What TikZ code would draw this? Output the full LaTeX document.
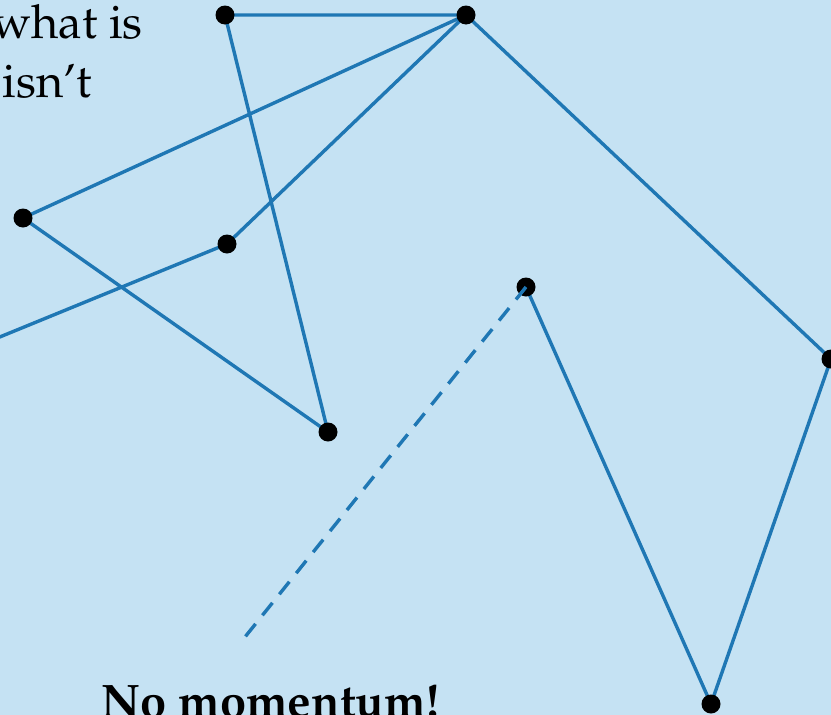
\documentclass[tikz,border=0pt]{standalone}
\usepackage[T1]{fontenc}
\usepackage{mathpazo}
\usepackage{xcolor}
\usepackage{tikz}

\definecolor{fond}{HTML}{C5E2F3}
\definecolor{bleu}{HTML}{1F77B4}

\begin{document}
\begin{tikzpicture}[
    x=1pt, y=-1pt,
    trait/.style={draw=bleu, line width=3.4pt, line join=round},
    pas/.style={circle, fill=black, inner sep=0pt, minimum size=19pt},
    texte/.style={inner sep=0pt, font=\fontsize{47}{59}\selectfont},
  ]
  % le fond, qui fixe aussi la taille
  \fill[fond] (0,0) rectangle (831,715);
  \clip (0,0) rectangle (831,715);
  % les positions de la marche
  \coordinate (p0) at (-120,386);
  \coordinate (p1) at (227,244);
  \coordinate (p2) at (466,15);
  \coordinate (p3) at (23,218);
  \coordinate (p4) at (328,432);
  \coordinate (p5) at (225,15);
  \coordinate (p6) at (831,359);
  \coordinate (p7) at (711,704);
  \coordinate (p8) at (526,287);
  \coordinate (suite) at (245,637);
  \draw[trait] (p0) -- (p1) -- (p2) -- (p3) -- (p4) -- (p5) -- (p2)
    -- (p6) -- (p7) -- (p8);
  \foreach \i in {1,...,8}
    \node[pas] (n\i) at (p\i) {};
  \draw[trait, dash pattern=on 16pt off 11pt] (n8.center) -- (suite);
  % les textes
  \node[texte, anchor=base east] (what) at (143,38) {what is};
  \node[texte, anchor=base east] (isnt) at (92,97) {isn't};
  \node[texte, anchor=base west, font=\fontsize{47}{59}\selectfont\bfseries]
    (mom) at (101,717) {No momentum!};
\end{tikzpicture}
\end{document}
